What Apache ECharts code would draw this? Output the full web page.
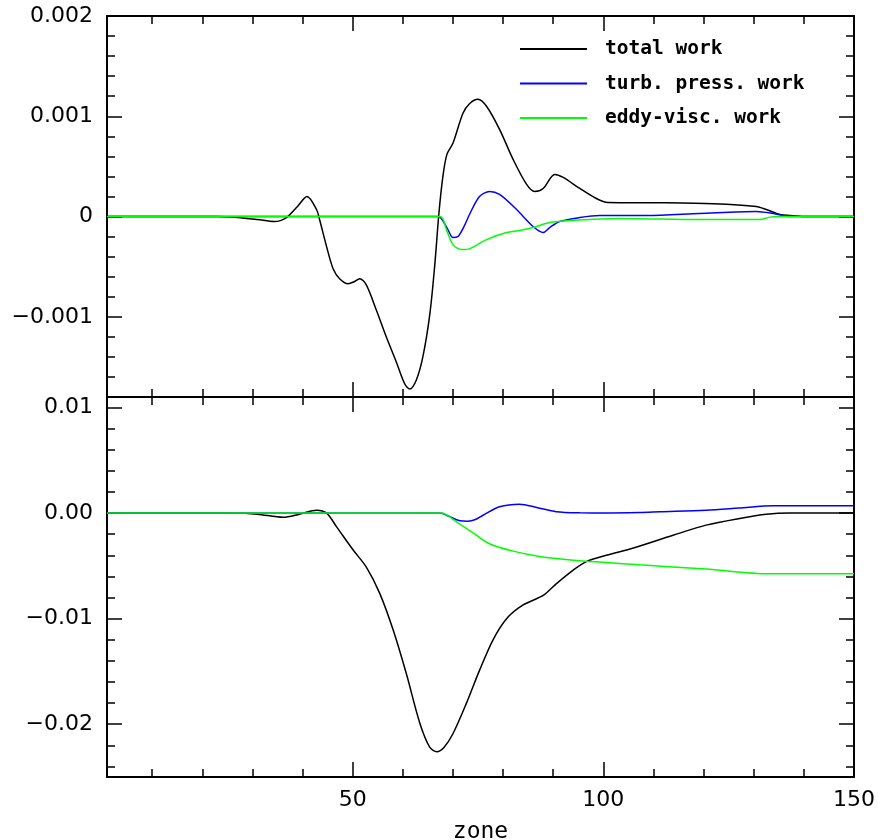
<!DOCTYPE html>
<html>
<head>
<meta charset="utf-8">
<script src="https://cdn.jsdelivr.net/npm/echarts@6/dist/echarts.min.js"></script>
<style>
html,body{margin:0;padding:0;background:#fff;}
#chart{width:878px;height:840px;}
</style>
</head>
<body>
<div id="chart"></div>
<script>
// ---------- data (zone, value) ----------
const seriesNames = ['total work', 'turb. press. work', 'eddy-visc. work'];
const seriesColors = ['#000000', '#0000ff', '#00ff00'];

const topTotal = [[1,0],[15,0],[23,0],[27,-0.00001],[31,-0.00003],[34.4,-0.00005],[36.8,-0.00001],[39,0.0001],[40.9,0.0002],[42.8,0.00007],[43.4,-0.00003],[44.8,-0.0003],[46.1,-0.00052],[47.4,-0.00062],[49.1,-0.00067],[50.3,-0.00065],[51.4,-0.00062],[52.7,-0.00068],[54.7,-0.00093],[56.7,-0.0012],[58.7,-0.00145],[60.4,-0.00167],[61.4,-0.00172],[62.7,-0.00163],[64.0,-0.0014],[65.4,-0.00097],[66.4,-0.00047],[67.2,0.00003],[68.0,0.0004],[68.8,0.00062],[70.0,0.00073],[72.0,0.00103],[73.4,0.00113],[75.0,0.00117],[76.7,0.0011],[79.3,0.00087],[82.0,0.00057],[84.7,0.00032],[86.3,0.00025],[88.0,0.00028],[90.3,0.00042],[92.0,0.00039],[95.3,0.00028],[98.6,0.00018],[100.9,0.00014],[111.9,0.000137],[121.9,0.000127],[130.5,0.0001],[132.5,0.00007],[135.2,0.00002],[137.2,0.00001],[140,0],[150,0]];
const topTurb = [[1,0],[67,0],[67.7,-0.00002],[69,-0.00013],[70,-0.00021],[71,-0.0002],[72.2,-0.0001],[73.4,0.00003],[75.3,0.0002],[77.3,0.00025],[79.3,0.00022],[82.7,0.00007],[86,-0.0001],[88,-0.00016],[89.3,-0.00011],[91.3,-0.00005],[95.3,-0.00001],[99.3,0.00001],[108.6,0.00001],[119.2,0.00003],[130.5,0.00005],[133.9,0.00003],[137.2,0],[150,0]];
const topEddy = [[1,0],[67.4,0],[68.7,-0.00013],[70,-0.00028],[71.7,-0.00033],[73.4,-0.00032],[76.7,-0.00023],[80.7,-0.00016],[83.3,-0.00014],[86,-0.00011],[89.3,-0.00006],[93.3,-0.00004],[103.3,-0.00002],[119.2,-0.00003],[131.2,-0.00003],[133.2,-0.000006],[135,0],[150,0]];

const botTotal = [[1,0],[26,0],[31,-0.0001],[36.1,-0.0004],[39.4,-0.0001],[42.8,0.00028],[44.8,0],[46.8,-0.0013],[50.1,-0.0035],[52.7,-0.0051],[55.4,-0.0076],[58.1,-0.0111],[60.7,-0.0152],[63.4,-0.0199],[65.4,-0.0222],[66.8,-0.0226],[68.2,-0.0222],[70,-0.0209],[72.7,-0.018],[75.3,-0.0149],[78,-0.012],[80.7,-0.01],[84,-0.0087],[88,-0.0078],[90.6,-0.0067],[94,-0.0054],[96.6,-0.0046],[100.6,-0.004],[106,-0.0033],[113.9,-0.0021],[120.5,-0.00114],[127.2,-0.0005],[132.5,-0.0001],[137.2,0.00002],[150,0]];
const botTurb = [[1,0],[67.4,0],[69.4,-0.00035],[71.2,-0.0007],[73,-0.00076],[74.5,-0.0006],[76,-0.0002],[79.3,0.0006],[83.3,0.00085],[86.7,0.00054],[90.6,0.00013],[95.3,0.00003],[100,0.00002],[107.2,0.00006],[111.3,0.00013],[120.5,0.00028],[127,0.00048],[133.9,0.0007],[150,0.0007]];
const botEddy = [[1,0],[67.7,0],[70.7,-0.00082],[74.1,-0.0019],[77.3,-0.0029],[82,-0.0036],[87.3,-0.0041],[94,-0.00446],[100.6,-0.00468],[107.2,-0.0049],[120.5,-0.0053],[133,-0.00575],[150,-0.00575]];

// ---------- axes / ticks ----------
const zoneRange = [1, 150];
const xMinorTicks = [10,20,30,40,50,60,70,80,90,100,110,120,130,140];
const xMajorTicks = [50,100,150];
const xTickLabels = ['50','100','150'];

const topRange = [-0.0018, 0.002];
const topMinorTicks = [-0.0018,-0.0016,-0.0014,-0.0012,-0.001,-0.0008,-0.0006,-0.0004,-0.0002,0,0.0002,0.0004,0.0006,0.0008,0.001,0.0012,0.0014,0.0016,0.0018];
const topMajorTicks = [-0.001, 0, 0.001, 0.002];
const topTickLabels = ['\u22120.001', '0', '0.001', '0.002'];

const botRange = [-0.025, 0.011];
const botMinorTicks = [-0.024,-0.022,-0.02,-0.018,-0.016,-0.014,-0.012,-0.01,-0.008,-0.006,-0.004,-0.002,0,0.002,0.004,0.006,0.008,0.01];
const botMajorTicks = [-0.02, -0.01, 0, 0.01];
const botTickLabels = ['\u22120.02', '\u22120.01', '0.00', '0.01'];

const FONT = 'DejaVu Sans';

function labelFor(ticks, labels) {
  return function (v) {
    for (let i = 0; i < ticks.length; i++) {
      if (Math.abs(ticks[i] - v) < 1e-9) return labels[i];
    }
    return '';
  };
}

function axis(kind, gridIndex, position, range, ticks, len, opts) {
  opts = opts || {};
  const a = {
    type: 'value', gridIndex: gridIndex, position: position,
    min: range[0], max: range[1],
    splitLine: {show: false},
    axisLine: {show: !!opts.line, onZero: false, lineStyle: {color: '#000', width: 2}},
    axisTick: {show: true, inside: true, length: len, customValues: ticks, lineStyle: {color: '#000', width: 1.5}},
    axisLabel: {show: false},
    axisPointer: {show: false}
  };
  if (opts.labels) {
    a.axisLabel = {
      show: true, customValues: opts.labels.ticks, formatter: labelFor(opts.labels.ticks, opts.labels.text),
      color: '#000', fontFamily: FONT, fontSize: 22, margin: opts.labels.margin
    };
  }
  if (opts.name) {
    a.name = opts.name; a.nameLocation = 'middle'; a.nameGap = opts.nameGap;
    a.nameTextStyle = {fontFamily: 'DejaVu Sans Mono', fontSize: 23, color: '#000'};
  }
  return a;
}

const xAxes = [];
const yAxes = [];
[0, 1].forEach(function (g) {
  const yr = g === 0 ? topRange : botRange;
  const yMinor = g === 0 ? topMinorTicks : botMinorTicks;
  const yMajor = g === 0 ? topMajorTicks : botMajorTicks;
  const yLabels = g === 0 ? topTickLabels : botTickLabels;
  // x bottom
  xAxes.push(axis('x', g, 'bottom', zoneRange, xMinorTicks, 8, {line: true}));
  xAxes.push(axis('x', g, 'bottom', zoneRange, xMajorTicks, 15,
    g === 1 ? {labels: {ticks: xMajorTicks, text: xTickLabels, margin: 12}, name: 'zone', nameGap: 44} : {}));
  // x top
  xAxes.push(axis('x', g, 'top', zoneRange, xMinorTicks, 8, {line: true}));
  xAxes.push(axis('x', g, 'top', zoneRange, xMajorTicks, 15, {}));
  // y left
  yAxes.push(axis('y', g, 'left', yr, yMinor, 8, {line: true}));
  yAxes.push(axis('y', g, 'left', yr, yMajor, 15, {labels: {ticks: yMajor, text: yLabels, margin: 14}}));
  // y right
  yAxes.push(axis('y', g, 'right', yr, yMinor, 8, {line: true}));
  yAxes.push(axis('y', g, 'right', yr, yMajor, 15, {}));
});

function line(name, color, data, g) {
  return {
    name: name, type: 'line', data: data,
    xAxisIndex: g * 4, yAxisIndex: g * 4,
    showSymbol: false, symbol: 'none', smooth: 0.3,
    lineStyle: {color: color, width: 1.5}, itemStyle: {color: color},
    silent: true, clip: true
  };
}

const option = {
  animation: false,
  backgroundColor: '#ffffff',
  grid: [
    {left: 107, top: 16, width: 747, height: 381, outerBoundsMode: 'none', containLabel: false},
    {left: 107, top: 397, width: 747, height: 380, outerBoundsMode: 'none', containLabel: false}
  ],
  legend: {
    data: seriesNames,
    orient: 'vertical',
    left: 520, top: 39,
    padding: 0,
    itemWidth: 67, itemHeight: 2, itemGap: 14.5,
    icon: 'rect',
    selectedMode: false,
    textStyle: {fontFamily: 'DejaVu Sans Mono', fontWeight: 'bold', fontSize: 19.5, color: '#000', padding: [0, 0, 0, 13]}
  },
  xAxis: xAxes,
  yAxis: yAxes,
  series: [
    line(seriesNames[0], seriesColors[0], topTotal, 0),
    line(seriesNames[1], seriesColors[1], topTurb, 0),
    line(seriesNames[2], seriesColors[2], topEddy, 0),
    line(seriesNames[0], seriesColors[0], botTotal, 1),
    line(seriesNames[1], seriesColors[1], botTurb, 1),
    line(seriesNames[2], seriesColors[2], botEddy, 1)
  ]
};

const chart = echarts.init(document.getElementById('chart'), null, {renderer: 'canvas'});
chart.setOption(option);
</script>
</body>
</html>
